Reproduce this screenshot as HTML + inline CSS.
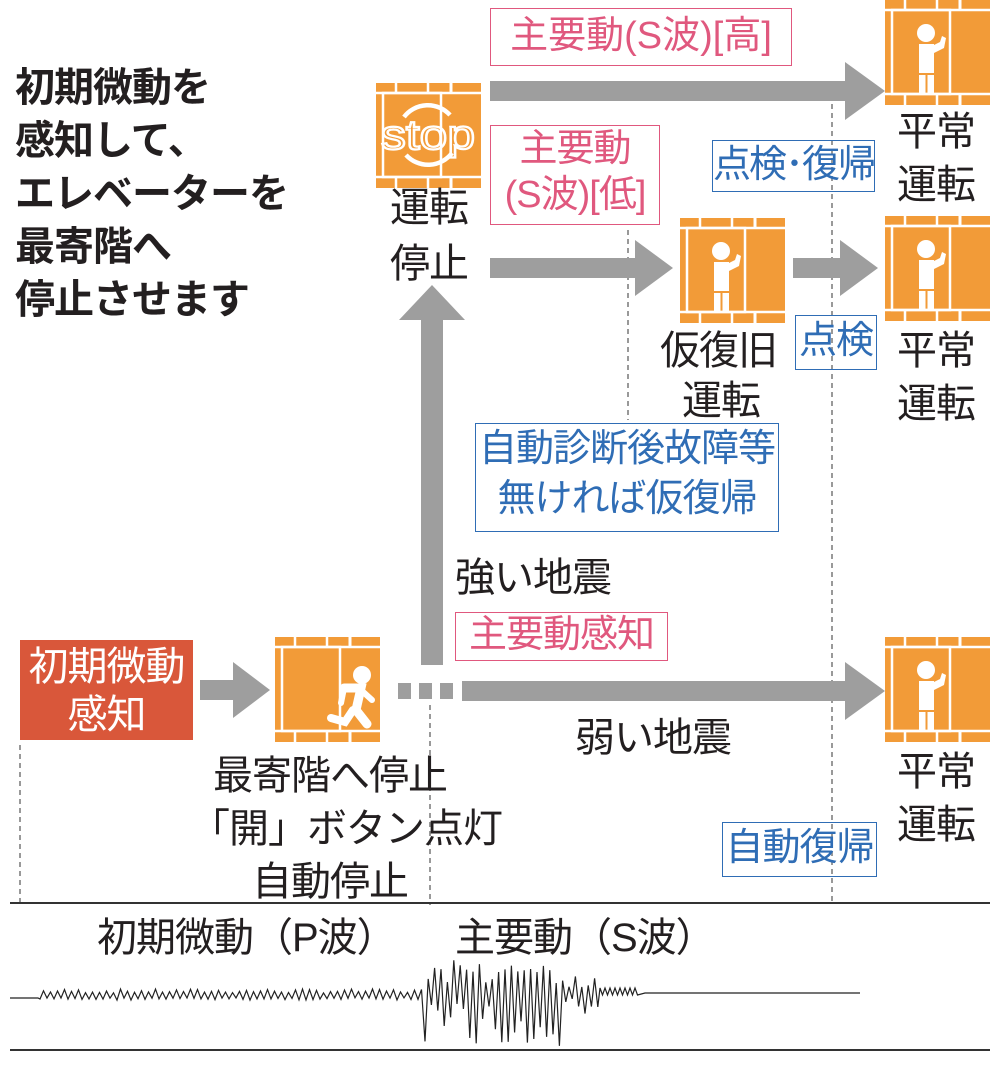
<!DOCTYPE html>
<html><head><meta charset="utf-8"><style>
html,body{margin:0;padding:0;background:#fff;}
#c{position:relative;width:1000px;height:1068px;overflow:hidden;font-family:"Liberation Sans","Noto Sans CJK JP",sans-serif;}
.t{position:absolute;font-size:40px;line-height:52px;color:#231f20;white-space:nowrap;letter-spacing:-1px;}
.b{position:absolute;box-sizing:border-box;border:1.5px solid;text-align:center;white-space:nowrap;font-size:38px;letter-spacing:-1px;}
.pk{border-color:#e0587e;color:#e0587e;}
.bl{border-color:#2f6db5;color:#2f6db5;}
svg{position:absolute;left:0;top:0;}
</style></head><body><div id="c">
<svg width="1000" height="1068" viewBox="0 0 1000 1068">
<defs>
<g id="el">
<rect x="0" y="0" width="105" height="105" fill="#f29b38"/>
<rect x="7" y="10" width="58" height="84" fill="none" stroke="#fff" stroke-width="2.5"/>
<line x1="0" y1="10" x2="105" y2="10" stroke="#fff" stroke-width="2.5"/>
<line x1="0" y1="94" x2="105" y2="94" stroke="#fff" stroke-width="2.5"/>
<line x1="20" y1="0" x2="20" y2="10" stroke="#fff" stroke-width="2.5"/>
<line x1="52" y1="0" x2="52" y2="10" stroke="#fff" stroke-width="2.5"/>
<line x1="75" y1="0" x2="75" y2="10" stroke="#fff" stroke-width="3"/>
<line x1="20" y1="94" x2="20" y2="105" stroke="#fff" stroke-width="2.5"/>
<line x1="52" y1="94" x2="52" y2="105" stroke="#fff" stroke-width="2.5"/>
<line x1="75" y1="94" x2="75" y2="105" stroke="#fff" stroke-width="3"/>
</g>
<g id="pp">
<circle cx="41" cy="33" r="9" fill="#fff"/>
<rect x="34" y="44" width="15" height="29" fill="#fff"/>
<path d="M47 46 L55 42 L57 36 L61 38 L59 48 L49 53 Z" fill="#fff"/>
<rect x="34" y="75" width="6.5" height="18" fill="#fff"/>
<rect x="42.5" y="75" width="6.5" height="18" fill="#fff"/>
</g>
</defs>
<g stroke="#999" stroke-width="2" stroke-dasharray="5,4">
<line x1="628" y1="230" x2="628" y2="420"/>
<line x1="832" y1="95" x2="832" y2="905"/>
<line x1="430" y1="705" x2="430" y2="905"/>
<line x1="20" y1="745" x2="20" y2="905"/>
</g>
<g fill="#9e9e9e">
<rect x="490" y="81" width="360" height="20"/><polygon points="845,62 885,91 845,120"/>
<rect x="490" y="258" width="145" height="20"/><polygon points="635,240 673,268 635,296"/>
<rect x="793" y="258" width="50" height="20"/><polygon points="840,240 878,268 840,296"/>
<rect x="421" y="318" width="22" height="347"/><polygon points="399,320 432,285 465,320"/>
<rect x="200" y="680" width="35" height="20"/><polygon points="233,662 270,690 233,718"/>
<rect x="398" y="683" width="13" height="16"/><rect x="419" y="683" width="13" height="16"/><rect x="440" y="683" width="13" height="16"/>
<rect x="462" y="681" width="388" height="20"/><polygon points="845,662 885,691 845,720"/>
</g>
<use href="#el" x="376" y="83"/>
<g transform="translate(428,135)">
<path d="M-24 -18 A30 30 0 0 1 22 -20" fill="none" stroke="#fff" stroke-width="4.5"/>
<path d="M24 18 A30 30 0 0 1 -22 20" fill="none" stroke="#fff" stroke-width="4.5"/>
<text x="0" y="14" text-anchor="middle" font-family="Liberation Sans,sans-serif" font-size="42" fill="none" stroke="#fff" stroke-width="2.2" textLength="94" lengthAdjust="spacingAndGlyphs">stop</text>
</g>
<use href="#el" x="885" y="0"/><use href="#pp" x="885" y="0"/>
<use href="#el" x="680" y="218"/><use href="#pp" x="680" y="218"/>
<use href="#el" x="885" y="216"/><use href="#pp" x="885" y="216"/>
<use href="#el" x="885" y="637"/><use href="#pp" x="885" y="637"/>
<use href="#el" x="275" y="637"/>
<g transform="translate(275,637)" fill="#fff" stroke="#fff">
<circle cx="87" cy="38" r="9" stroke="none"/>
<path d="M69 51 L86 51 L81 73 L92 87" fill="none" stroke-width="9" stroke-linecap="round"/>
<path d="M78 73 L70 85 L56 81" fill="none" stroke-width="8" stroke-linecap="round"/>
<path d="M69 51 L66 66" fill="none" stroke-width="6" stroke-linecap="round"/>
<path d="M86 53 L97 63" fill="none" stroke-width="6" stroke-linecap="round"/>
</g>
<rect x="20" y="640" width="173" height="100" fill="#d9573a"/>
<line x1="10" y1="903" x2="990" y2="903" stroke="#333" stroke-width="2"/>
<line x1="10" y1="1050" x2="990" y2="1050" stroke="#333" stroke-width="2"/>
<polyline id="wave" fill="none" stroke="#222" stroke-width="1.2" points=""/>
</svg>

<div class="t" style="left:15px;top:62px;line-height:53px;font-weight:bold;">初期微動を<br>感知して、<br>エレベーターを<br>最寄階へ<br>停止させます</div>
<div class="t" style="left:390px;top:180px;line-height:56px;">運転<br>停止</div>
<div class="b pk" style="left:490px;top:8px;width:302px;height:58px;line-height:54px;letter-spacing:0;">主要動(S波)[高]</div>
<div class="b pk" style="left:490px;top:125px;width:170px;height:100px;line-height:46px;">主要動<br>(S波)[低]</div>
<div class="b bl" style="left:712px;top:140px;width:163px;height:52px;line-height:48px;letter-spacing:-2px;">点検･復帰</div>
<div class="b bl" style="left:795px;top:315px;width:82px;height:55px;line-height:51px;">点検</div>
<div class="b bl" style="left:475px;top:423px;width:304px;height:109px;line-height:50px;">自動診断後故障等<br>無ければ仮復帰</div>
<div class="b pk" style="left:455px;top:612px;width:213px;height:49px;line-height:45px;">主要動感知</div>
<div class="b bl" style="left:722px;top:822px;width:155px;height:55px;line-height:51px;">自動復帰</div>
<div class="t" style="left:897px;top:106px;line-height:53px;">平常<br>運転</div>
<div class="t" style="left:897px;top:325px;line-height:53px;">平常<br>運転</div>
<div class="t" style="left:897px;top:746px;line-height:53px;">平常<br>運転</div>
<div class="t" style="left:660px;top:325px;line-height:53px;">仮復旧</div>
<div class="t" style="left:682px;top:375px;line-height:53px;">運転</div>
<div class="t" style="left:455px;top:552px;">強い地震</div>
<div class="t" style="left:575px;top:712px;">弱い地震</div>
<div class="t" style="left:20px;top:643px;width:173px;text-align:center;color:#fff;line-height:48px;">初期微動<br>感知</div>
<div class="t" style="left:190px;top:750px;width:280px;text-align:center;line-height:53px;">最寄階へ停止<br>「開」ボタン点灯<br>自動停止</div>
<div class="t" style="left:97px;top:912px;">初期微動（P波）</div>
<div class="t" style="left:455px;top:912px;">主要動（S波）</div>
<script>
(function(){
var p=[],y0=998,x;
p.push("10,"+y0,"38,"+y0);
var s=7;function r(){s=(s*9301+49297)%233280;return s/233280;}
for(x=40;x<425;x+=3.5){var a=3+4*r();p.push(x.toFixed(1)+","+(y0-2+((p.length%2)?-a:a*0.6)).toFixed(1));}
for(x=425;x<600;x+=3.2){var env=x<470?1:(x<560?0.95:0.45);var up=(10+30*r())*env,dn=(10+45*r())*env;var o=(p.length%2)?-up:dn;p.push(x.toFixed(1)+","+(y0-4+o).toFixed(1));}
for(x=600;x<640;x+=2.5){p.push(x.toFixed(1)+","+(y0-6+((p.length%2)?-4:3)));}
p.push("645,"+(y0-5),"860,"+(y0-5));
document.getElementById("wave").setAttribute("points",p.join(" "));
})();
</script>
</div></body></html>
